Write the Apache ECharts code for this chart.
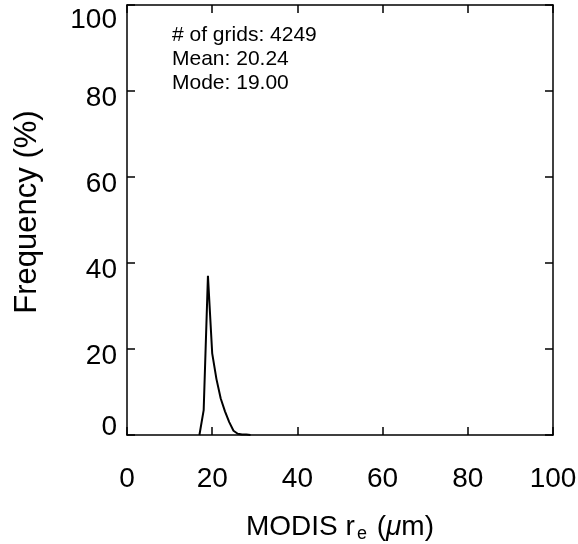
<!DOCTYPE html>
<html>
<head>
<meta charset="utf-8">
<script src="https://cdn.jsdelivr.net/npm/echarts@6/dist/echarts.min.js"></script>
<style>
html,body{margin:0;padding:0;background:#fff;}
#c{width:578px;height:544px;}
</style>
</head>
<body>
<div id="c"></div>
<script>
// Data
var reX = [17, 18, 19, 20, 21, 22, 23, 24, 25, 26, 27, 28, 29];
var freq = [0, 5.8, 37, 19, 13, 8.5, 5.5, 3, 1, 0.3, 0.1, 0.1, 0];
var xTicks = [0, 20, 40, 60, 80, 100];
var yTicks = [0, 20, 40, 60, 80, 100];
var annotations = ['# of grids: 4249', 'Mean: 20.24', 'Mode: 19.00'];

var FONT = '"Liberation Sans", Arial, Helvetica, sans-serif';
var chart = echarts.init(document.getElementById('c'), null, {renderer: 'canvas'});

var pts = reX.map(function (x, i) { return [x, freq[i]]; });

var axisLine = {show: true, onZero: false, lineStyle: {color: '#000', width: 1.5}};
var axisTick = {show: true, inside: true, length: 8, lineStyle: {color: '#000', width: 1.5}};

var option = {
  animation: false,
  backgroundColor: '#fff',
  grid: {left: 127, right: 25, top: 5, bottom: 109, containLabel: false, outerBoundsMode: 'none'},
  xAxis: [{
    type: 'value', min: xTicks[0], max: xTicks[xTicks.length - 1], interval: 20,
    position: 'bottom',
    axisLine: axisLine, axisTick: axisTick, splitLine: {show: false},
    axisLabel: {
      margin: 30, color: '#000', fontSize: 28, fontFamily: FONT,
      showMinLabel: true, showMaxLabel: true
    },
    name: '{n|MODIS r}{s|e}{n| (}{g|\u03bc}{n|m)}',
    nameLocation: 'middle', nameGap: 76,
    nameTextStyle: {
      rich: {
        n: {fontSize: 28, fontFamily: FONT, color: '#000'},
        s: {fontSize: 18, fontFamily: FONT, color: '#000', padding: [14, 2, 0, 2]},
        g: {fontSize: 28, fontFamily: FONT, fontStyle: 'italic', color: '#000'}
      }
    }
  }, {
    type: 'value', min: xTicks[0], max: xTicks[xTicks.length - 1], interval: 20,
    position: 'top',
    axisLine: axisLine, axisTick: axisTick, splitLine: {show: false},
    axisLabel: {show: false}
  }],
  yAxis: [{
    type: 'value', min: yTicks[0], max: yTicks[yTicks.length - 1], interval: 20,
    position: 'left',
    axisLine: axisLine, axisTick: axisTick, splitLine: {show: false},
    axisLabel: {
      margin: 10, color: '#000', fontSize: 28, fontFamily: FONT,
      showMinLabel: true, showMaxLabel: true,
      formatter: function (v) {
        if (v === 100) return '{t|' + v + '}';
        if (v === 0) return '{b|' + v + '}';
        return '{m|' + v + '}';
      },
      rich: {
        t: {fontSize: 28, fontFamily: FONT, color: '#000', padding: [30, 0, 0, 0]},
        m: {fontSize: 28, fontFamily: FONT, color: '#000', padding: [14, 0, 0, 0]},
        b: {fontSize: 28, fontFamily: FONT, color: '#000', padding: [0, 0, 16, 0]}
      }
    },
    name: 'Frequency (%)',
    nameLocation: 'middle', nameGap: 84,
    nameTextStyle: {fontSize: 31, fontFamily: FONT, color: '#000', padding: [0, 0, 0, 16]}
  }, {
    type: 'value', min: yTicks[0], max: yTicks[yTicks.length - 1], interval: 20,
    position: 'right',
    axisLine: axisLine, axisTick: axisTick, splitLine: {show: false},
    axisLabel: {show: false}
  }],
  series: [{
    type: 'line',
    xAxisIndex: 0, yAxisIndex: 0,
    data: pts,
    showSymbol: false, symbol: 'none',
    lineStyle: {color: '#000', width: 2},
    z: 3
  }],
  graphic: annotations.map(function (t, i) {
    return {
      type: 'text', left: 172, top: 25 + i * 24,
      style: {text: t, fontSize: 21, fontFamily: FONT, fill: '#000'}
    };
  })
};
chart.setOption(option);
</script>
</body>
</html>
